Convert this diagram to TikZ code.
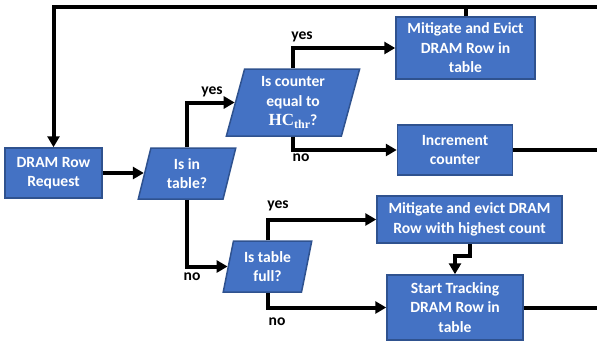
\documentclass[tikz,border=0pt]{standalone}
\usepackage{fontspec}
\setmainfont{Carlito}
\newfontfamily\hcfont{Liberation Serif}
\usetikzlibrary{shapes.geometric,arrows.meta}
\definecolor{boxfill}{HTML}{4472C4}
\definecolor{boxline}{HTML}{2F528F}
\newcommand{\hcthr}{{\hcfont\bfseries\fontsize{17}{19.5}\selectfont HC\raisebox{-3pt}{\fontsize{12}{12}\selectfont thr}}}
\begin{document}
\begin{tikzpicture}[x=1pt,y=-1pt, font=\fontsize{15.6}{19.5}\selectfont\bfseries,
  procbox/.style={rectangle, draw=boxline, line width=1.5pt, fill=boxfill, text=white, align=center, inner sep=0pt},
  decbox/.style={trapezium, trapezium left angle=77, trapezium right angle=103, trapezium stretches=true, draw=boxline, line width=1.5pt, fill=boxfill, text=white, align=center, inner sep=0pt},
  conn/.style={line width=4pt, -{Triangle[length=11pt,width=12pt]}},
  plainline/.style={line width=4pt},
  lbl/.style={text=black, inner sep=0pt}]
\useasboundingbox (0,0) rectangle (597,341);
\fill[white] (0,0) rectangle (597,341);

\node[procbox, minimum width=97pt, minimum height=50pt] (dram) at (53.5,173) {DRAM Row\\Request};
\node[decbox, minimum width=98pt, minimum height=51pt] (intab) at (187,173.5) {Is in\\table?};
\node[decbox, minimum width=134pt, minimum height=67pt] (cnt) at (293,102.5) {Is counter\\equal to\\\hcthr?};
\node[procbox, minimum width=139pt, minimum height=62pt] (mit) at (465.5,48) {Mitigate and Evict\\DRAM Row in\\table};
\node[procbox, minimum width=115pt, minimum height=50pt] (inc) at (455,150) {Increment\\counter};
\node[decbox, minimum width=89pt, minimum height=51pt] (full) at (267.5,266.5) {Is table\\full?};
\node[procbox, minimum width=185pt, minimum height=47pt] (mev) at (469.5,219.5) {Mitigate and evict DRAM\\Row with highest count};
\node[procbox, minimum width=136pt, minimum height=65pt] (start) at (455,307.5) {Start Tracking\\DRAM Row in\\table};

\coordinate (topR) at (600,7);
\coordinate (incR) at (600,150);
\coordinate (startR) at (600,307.5);

\draw[conn] (topR) -| (dram.north);
\draw[plainline] (mit.north) -- (mit.north |- topR);
\draw[conn] (dram.east) -- (dram.east -| intab.west);
\draw[conn] (intab.north) |- (cnt.west);
\draw[conn] (cnt.north) |- (mit.west);
\draw[conn] (cnt.south) |- (inc.west);
\draw[plainline] (inc.east) -- (incR);
\draw[conn] (intab.south) |- (full.west);
\draw[conn] (full.north) |- (mev.west);
\draw[conn] (full.south) |- (start.west);
\draw[conn] (mev.south) -- ++(0,12.5) -| (start.north);
\draw[plainline] (start.east) -- (startR);

\node[lbl] (l1) at (212,92) {yes};
\node[lbl] (l2) at (302,37) {yes};
\node[lbl] (l3) at (301,158) {no};
\node[lbl] (l4) at (192,277) {no};
\node[lbl] (l5) at (278,206) {yes};
\node[lbl] (l6) at (277,322) {no};
\end{tikzpicture}
\end{document}
